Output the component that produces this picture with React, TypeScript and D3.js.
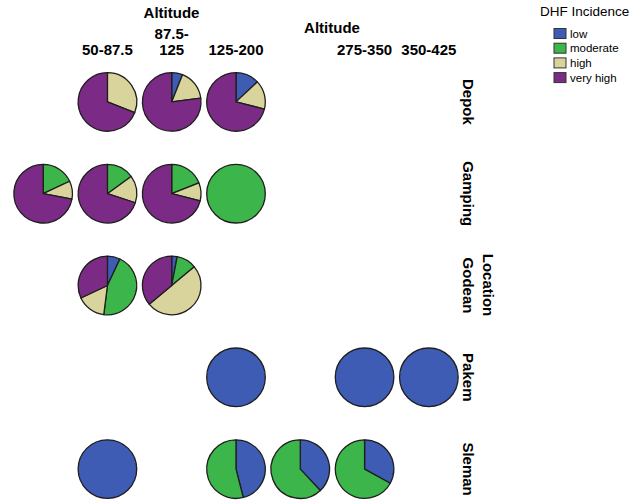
import React from "react";
import * as d3 from "d3";

const locations = ["Depok", "Gamping", "Godean", "Pakem", "Sleman"];
const altitudes = ["<50", "50-87.5", "87.5-125", "125-200", "200-275", "275-350", "350-425"];
const altitudeHeaders = ["", "50-87.5", "87.5-125", "125-200", "", "275-350", "350-425"];
const levels = ["low", "moderate", "high", "very high"];
const levelColors = ["#3f5cb4", "#3cb64a", "#d8d49c", "#7b2b85"];

// [location, altitude, low, moderate, high, very high] (percent)
const cells: [string, string, number, number, number, number][] = [
  ["Depok", "50-87.5", 0, 0, 31, 69],
  ["Depok", "87.5-125", 6, 0, 17, 77],
  ["Depok", "125-200", 13, 0, 16, 71],
  ["Gamping", "<50", 0, 18, 10, 72],
  ["Gamping", "50-87.5", 0, 15, 15, 70],
  ["Gamping", "87.5-125", 0, 19, 10, 71],
  ["Gamping", "125-200", 0, 100, 0, 0],
  ["Godean", "50-87.5", 7, 45, 16, 32],
  ["Godean", "87.5-125", 3, 11, 50, 36],
  ["Pakem", "125-200", 100, 0, 0, 0],
  ["Pakem", "275-350", 100, 0, 0, 0],
  ["Pakem", "350-425", 100, 0, 0, 0],
  ["Sleman", "50-87.5", 100, 0, 0, 0],
  ["Sleman", "125-200", 46, 54, 0, 0],
  ["Sleman", "200-275", 38, 62, 0, 0],
  ["Sleman", "275-350", 33, 67, 0, 0],
];

const W = 633;
const H = 502;
const font = "'Liberation Sans', Arial, Helvetica, sans-serif";

export default function App() {
  const x = d3.scaleBand<string>().domain(altitudes).range([11, 461]).padding(0);
  const y = d3.scaleBand<string>().domain(locations).range([56, 515]).padding(0);
  const r = 29.3;
  const pie = d3.pie<number>().sort(null).value((d) => d);
  const arc = d3.arc<d3.PieArcDatum<number>>().innerRadius(0).outerRadius(r);

  return (
    <svg width={W} height={H} style={{ position: "absolute", left: 0, top: 0, background: "#fff" }} fontFamily={font}>
      {/* header */}
      <text x={171.5} y={18} textAnchor="middle" fontWeight="bold" fontSize={15}>Altitude</text>
      <text x={332} y={33} textAnchor="middle" fontWeight="bold" fontSize={15}>Altitude</text>
      {altitudeHeaders.map((lab, i) => {
        if (!lab) return null;
        const cx = (x(altitudes[i]) ?? 0) + x.bandwidth() / 2;
        const lines = lab.length > 7 ? [lab.slice(0, lab.indexOf("-") + 1), lab.slice(lab.indexOf("-") + 1)] : [lab];
        return lines.map((l, j) => (
          <text key={lab + j} x={cx} y={55 - (lines.length - 1 - j) * 16} textAnchor="middle" fontWeight="bold" fontSize={15}>
            {l}
          </text>
        ));
      })}
      {/* row labels */}
      {locations.map((loc) => {
        const cy = (y(loc) ?? 0) + y.bandwidth() / 2;
        return (
          <text key={loc} transform={`translate(468,${cy}) rotate(90)`} textAnchor="middle" dominantBaseline="central" fontWeight="bold" fontSize={15}>
            {loc}
          </text>
        );
      })}
      <text transform={`translate(488,285) rotate(90)`} textAnchor="middle" dominantBaseline="central" fontWeight="bold" fontSize={15}>Location</text>
      {/* pies */}
      {cells.map(([loc, alt, ...vals]) => {
        const cx = (x(alt) ?? 0) + x.bandwidth() / 2;
        const cy = (y(loc) ?? 0) + y.bandwidth() / 2;
        const arcs = pie(vals);
        return (
          <g key={loc + alt} transform={`translate(${cx},${cy})`}>
            {arcs.map((a, k) =>
              a.value > 0 ? (
                <path key={k} d={arc(a) ?? ""} fill={levelColors[k]} stroke="#1e1e1e" strokeWidth={1.3} strokeLinejoin="round" />
              ) : null
            )}
          </g>
        );
      })}
      {/* legend */}
      <text x={540} y={16} fontSize={13.5}>DHF Incidence</text>
      {levels.map((lv, i) => (
        <g key={lv} transform={`translate(554,${28.5 + i * 14.7})`}>
          <rect width={12} height={10} fill={levelColors[i]} stroke="#333" strokeWidth={1} />
          <text x={16} y={9} fontSize={11.5}>{lv}</text>
        </g>
      ))}
    </svg>
  );
}
